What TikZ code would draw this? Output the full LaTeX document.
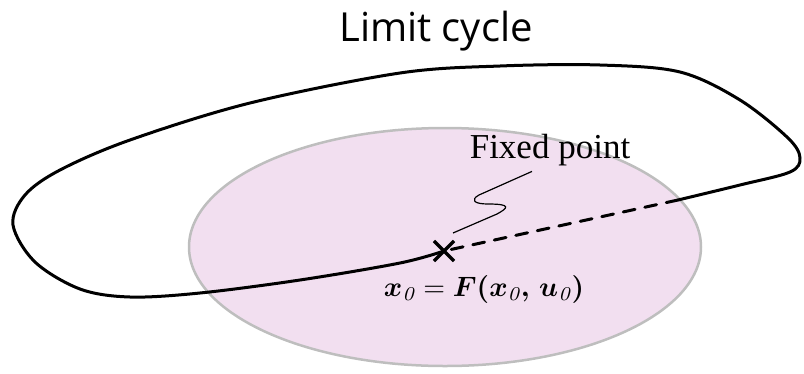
\documentclass[tikz,border=0pt]{standalone}
\usepackage{fontspec}
\usepackage{bm}
\usetikzlibrary{shapes.misc}
\newfontfamily\titlefont{Open Sans}
\newfontfamily\labelfont{Liberation Serif}
\definecolor{regionpink}{RGB}{242,223,240}
\definecolor{regiongray}{RGB}{190,190,190}
\tikzset{
  cycleline/.style={line width=3pt, line cap=round, line join=round},
  fixmark/.style={cross out, draw, line width=3.2pt, minimum size=17pt, inner sep=0pt},
  squiggle/.style={line width=1.2pt}
}
\newcommand{\fixedeq}{$\bm{x}_{\mathit{0}} = \bm{F(x}_{\mathit{0}}\bm{,\, u}_{\mathit{0}}\bm{)}$}
\begin{document}
\begin{tikzpicture}[x=1pt, y=-1pt]
\useasboundingbox (0,0) rectangle (804,373);
% region around the fixed point
\draw[fill=regionpink, draw=regiongray, line width=2.5pt] (445,247) ellipse [x radius=256, y radius=119];

\node (title) at (436,31) {\titlefont\fontsize{40}{46}\selectfont Limit cycle};
\node[fixmark] (fp) at (444,251) {};
\node[scale=2.8] (fixeq) at (484,289) {\fixedeq};
\node (fixlabel) at (550,150) {\labelfont\fontsize{35}{40}\selectfont Fixed point};
\coordinate (entry) at (678,200);

% limit cycle: solid outside, dashed inside the region
\draw[cycleline] plot[smooth, tension=0.55] coordinates {(fp.center) (400,263) (300,280) (200,293) (130,297) (80,289) (35,262) (13,225) (25,195) (60,170) (130,140) (250,103) (400,73) (500,66) (600,65) (680,72) (740,100) (788,138) (800,158) (790,172) (740,185) (entry)};
\draw[cycleline, dash pattern=on 12pt off 10pt] (entry) -- (fp.center);

% pointer from the label
\draw[squiggle] ([xshift=-18pt, yshift=-2pt]fixlabel.south) -- (479,195)
  .. controls (470,200) and (474,204) .. (488,204)
  .. controls (512,204) and (508,208) .. (497,214) -- ([shift={(9,-18)}]fp.center);
\end{tikzpicture}
\end{document}
